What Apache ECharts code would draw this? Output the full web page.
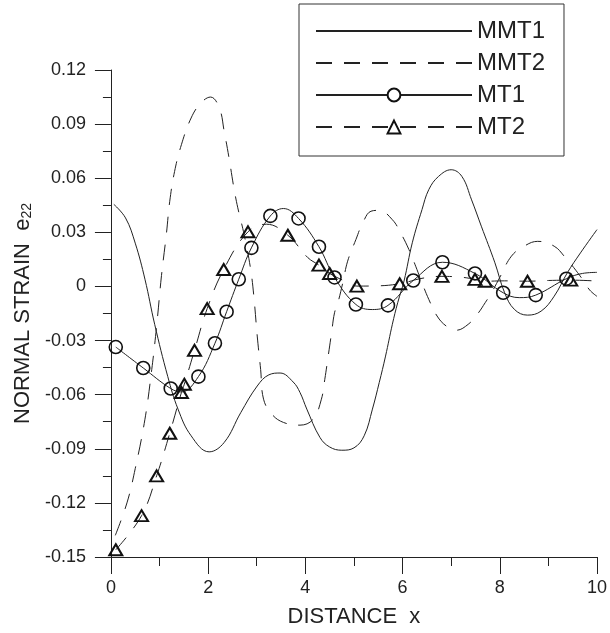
<!DOCTYPE html>
<html>
<head>
<meta charset="utf-8">
<script src="https://cdn.jsdelivr.net/npm/echarts@6/dist/echarts.min.js"></script>
<style>
html,body{margin:0;padding:0;background:#fff;}
#chart{width:610px;height:633px;}
</style>
</head>
<body>
<div id="chart"></div>
<script>
// ---- data ----
const xTicks = [0, 2, 4, 6, 8, 10];
const yTicks = [-0.15, -0.12, -0.09, -0.06, -0.03, 0, 0.03, 0.06, 0.09, 0.12];

const mmt1X = [0.06, 0.3, 0.5, 0.7, 0.9, 1.17, 1.38, 1.65, 2.02, 2.33, 2.67, 3.01, 3.25, 3.48, 3.75, 3.89, 4.03, 4.3, 4.5, 4.75, 5.0, 5.21, 5.38, 5.52, 5.65, 5.79, 5.9, 6.03, 6.2, 6.4, 6.54, 6.74, 7.0, 7.22, 7.42, 7.62, 7.9, 8.1, 8.3, 8.57, 8.85, 9.12, 9.39, 9.66, 10.0];
const mmt1Y = [0.0455, 0.038, 0.024, 0.004, -0.021, -0.05, -0.068, -0.0828, -0.0917, -0.0865, -0.07, -0.0552, -0.049, -0.048, -0.053, -0.0588, -0.068, -0.0837, -0.089, -0.0908, -0.0895, -0.0828, -0.068, -0.0533, -0.0386, -0.021, -0.009, 0.003, 0.0242, 0.0426, 0.0537, 0.061, 0.0647, 0.061, 0.048, 0.0334, 0.0131, -0.0035, -0.0127, -0.0159, -0.0137, -0.0054, 0.0076, 0.0186, 0.0315];

const mmt2X = [0.09, 0.33, 0.5, 0.7, 0.84, 0.94, 1.04, 1.14, 1.21, 1.31, 1.45, 1.65, 1.85, 2.05, 2.23, 2.33, 2.43, 2.53, 2.61, 2.74, 2.87, 2.94, 3.01, 3.08, 3.14, 3.31, 3.55, 3.89, 4.16, 4.33, 4.4, 4.47, 4.54, 4.6, 4.67, 4.77, 4.87, 5.04, 5.18, 5.35, 5.52, 5.79, 5.96, 6.13, 6.27, 6.4, 6.54, 6.71, 6.9, 7.1, 7.35, 7.55, 7.7, 7.84, 8.0, 8.24, 8.5, 8.78, 9.12, 9.35, 9.52, 9.7, 9.85, 10.0];
const mmt2Y = [-0.138, -0.12, -0.101, -0.0736, -0.046, -0.022, 0.006, 0.0288, 0.0472, 0.0638, 0.0786, 0.0934, 0.1017, 0.105, 0.099, 0.086, 0.0712, 0.0546, 0.0436, 0.0288, 0.0103, -0.0054, -0.0275, -0.046, -0.0625, -0.0708, -0.0754, -0.0769, -0.0736, -0.0625, -0.0515, -0.0386, -0.0256, -0.0146, -0.009, 0.002, 0.014, 0.026, 0.0352, 0.0417, 0.0422, 0.037, 0.0297, 0.0205, 0.0112, 0.002, -0.0072, -0.0164, -0.022, -0.0243, -0.021, -0.015, -0.009, -0.003, 0.005, 0.0168, 0.0223, 0.025, 0.0223, 0.016, 0.0105, 0.004, -0.002, -0.0055];

const mt1X = [0.10, 0.665, 1.23, 1.45, 1.80, 2.14, 2.38, 2.63, 2.89, 3.28, 3.55, 3.86, 4.28, 4.60, 5.04, 5.38, 5.70, 6.22, 6.82, 7.49, 8.07, 8.40, 8.74, 9.37, 9.70, 10.0];
const mt1Y = [-0.0336, -0.0452, -0.0566, -0.0585, -0.050, -0.0315, -0.014, 0.004, 0.0214, 0.0391, 0.0432, 0.0377, 0.022, 0.005, -0.010, -0.0128, -0.0105, 0.0033, 0.0134, 0.0072, -0.0035, -0.0062, -0.0048, 0.0043, 0.0072, 0.0078];
const mt1Marked = [1, 1, 1, 0, 1, 1, 1, 1, 1, 1, 0, 1, 1, 1, 1, 0, 1, 1, 1, 1, 1, 0, 1, 1, 0, 0];

const mt2X = [0.10, 0.63, 0.94, 1.21, 1.45, 1.51, 1.72, 1.98, 2.32, 2.82, 3.20, 3.64, 4.05, 4.28, 4.50, 4.85, 5.06, 5.45, 5.94, 6.40, 6.81, 7.25, 7.49, 7.70, 8.10, 8.57, 9.00, 9.46, 10.0];
const mt2Y = [-0.146, -0.1271, -0.105, -0.0814, -0.0588, -0.0542, -0.0354, -0.0123, 0.0094, 0.0303, 0.0345, 0.0284, 0.016, 0.0118, 0.0072, 0.0025, 0.0002, 0.0003, 0.0015, 0.0045, 0.0056, 0.005, 0.0039, 0.0029, 0.0031, 0.0029, 0.0033, 0.0035, 0.003];
const mt2Marked = [1, 1, 1, 1, 1, 1, 1, 1, 1, 1, 0, 1, 0, 1, 1, 0, 1, 0, 1, 0, 1, 0, 1, 1, 0, 1, 0, 1, 0];

const seriesNames = ['MMT1', 'MMT2', 'MT1', 'MT2'];

// ---- build ----
const FONT = 'Liberation Sans, Arial, sans-serif';
const INK = '#222';
const DASH = [16, 12];
function pairs(xs, ys) { return xs.map((x, i) => [x, ys[i]]); }
function marked(xs, ys, flags) {
  return xs.map((x, i) => flags[i] ? [x, ys[i]] : { value: [x, ys[i]], symbol: 'none' });
}
const hiddenSym = { color: 'rgba(0,0,0,0)', borderWidth: 0, borderColor: 'rgba(0,0,0,0)' };
const whiteSym = { color: '#fff' };

const chart = echarts.init(document.getElementById('chart'), null, { renderer: 'canvas' });
chart.setOption({
  animation: false,
  backgroundColor: '#fff',
  textStyle: { fontFamily: FONT, color: INK },
  grid: { left: 109, right: 10, top: 70, bottom: 75 },
  legend: {
    orient: 'vertical',
    left: 299, top: 4,
    padding: [15, 19, 17, 16],
    itemGap: 8,
    itemWidth: 156, itemHeight: 16,
    itemTextGap: 17,
    borderColor: '#333', borderWidth: 1,
    backgroundColor: '#fff',
    textStyle: { fontSize: 24, color: INK, fontFamily: FONT },
    data: [
      { name: seriesNames[0], itemStyle: hiddenSym },
      { name: seriesNames[1], itemStyle: hiddenSym },
      { name: seriesNames[2], itemStyle: whiteSym },
      { name: seriesNames[3], itemStyle: whiteSym }
    ]
  },
  xAxis: {
    type: 'value', min: xTicks[0], max: xTicks[xTicks.length - 1], interval: 2,
    name: 'DISTANCE  x', nameLocation: 'middle', nameGap: 49,
    nameTextStyle: { fontSize: 22, color: INK, fontFamily: FONT },
    axisLine: { show: true, onZero: false, lineStyle: { color: INK, width: 1 } },
    axisTick: { show: true, length: 17, lineStyle: { color: INK } },
    minorTick: { show: true, splitNumber: 2, length: 9, lineStyle: { color: INK } },
    splitLine: { show: false },
    axisLabel: { fontSize: 18, color: INK, margin: 22, fontFamily: FONT }
  },
  yAxis: {
    type: 'value', min: yTicks[0], max: yTicks[yTicks.length - 1], interval: 0.03,
    name: 'NORMAL STRAIN  e{sub|22}', nameLocation: 'middle', nameGap: 75, nameRotate: 90,
    nameTextStyle: {
      fontSize: 22, color: INK, fontFamily: FONT, lineHeight: 22,
      rich: { sub: { fontSize: 14, lineHeight: 14, verticalAlign: 'bottom', padding: [12, 0, 0, 0], color: INK, fontFamily: FONT } }
    },
    axisLine: { show: true, onZero: false, lineStyle: { color: INK, width: 1 } },
    axisTick: { show: true, length: 16, lineStyle: { color: INK } },
    minorTick: { show: true, splitNumber: 2, length: 8, lineStyle: { color: INK } },
    splitLine: { show: false },
    axisLabel: { fontSize: 18, color: INK, margin: 25, fontFamily: FONT,
      formatter: v => String(+(+v).toFixed(2)) }
  },
  series: [
    {
      name: 'MMT1', type: 'line', smooth: 0.4, symbol: 'none',
      data: pairs(mmt1X, mmt1Y),
      lineStyle: { color: INK, width: 1, type: 'solid' },
      itemStyle: { color: INK }
    },
    {
      name: 'MMT2', type: 'line', smooth: 0.4, symbol: 'none',
      data: pairs(mmt2X, mmt2Y),
      lineStyle: { color: INK, width: 1, type: DASH },
      itemStyle: { color: INK }
    },
    {
      name: 'MT1', type: 'line', smooth: 0.4, symbol: 'circle', symbolSize: 13, showAllSymbol: true,
      data: marked(mt1X, mt1Y, mt1Marked),
      lineStyle: { color: INK, width: 1, type: 'solid' },
      itemStyle: { color: 'rgba(255,255,255,0)', borderColor: '#111', borderWidth: 1.6 }
    },
    {
      name: 'MT2', type: 'line', smooth: 0.4, symbol: 'triangle', symbolSize: [13, 11], showAllSymbol: true,
      data: marked(mt2X, mt2Y, mt2Marked),
      lineStyle: { color: INK, width: 1, type: DASH },
      itemStyle: { color: 'rgba(255,255,255,0)', borderColor: '#111', borderWidth: 2 }
    }
  ]
});
</script>
</body>
</html>
